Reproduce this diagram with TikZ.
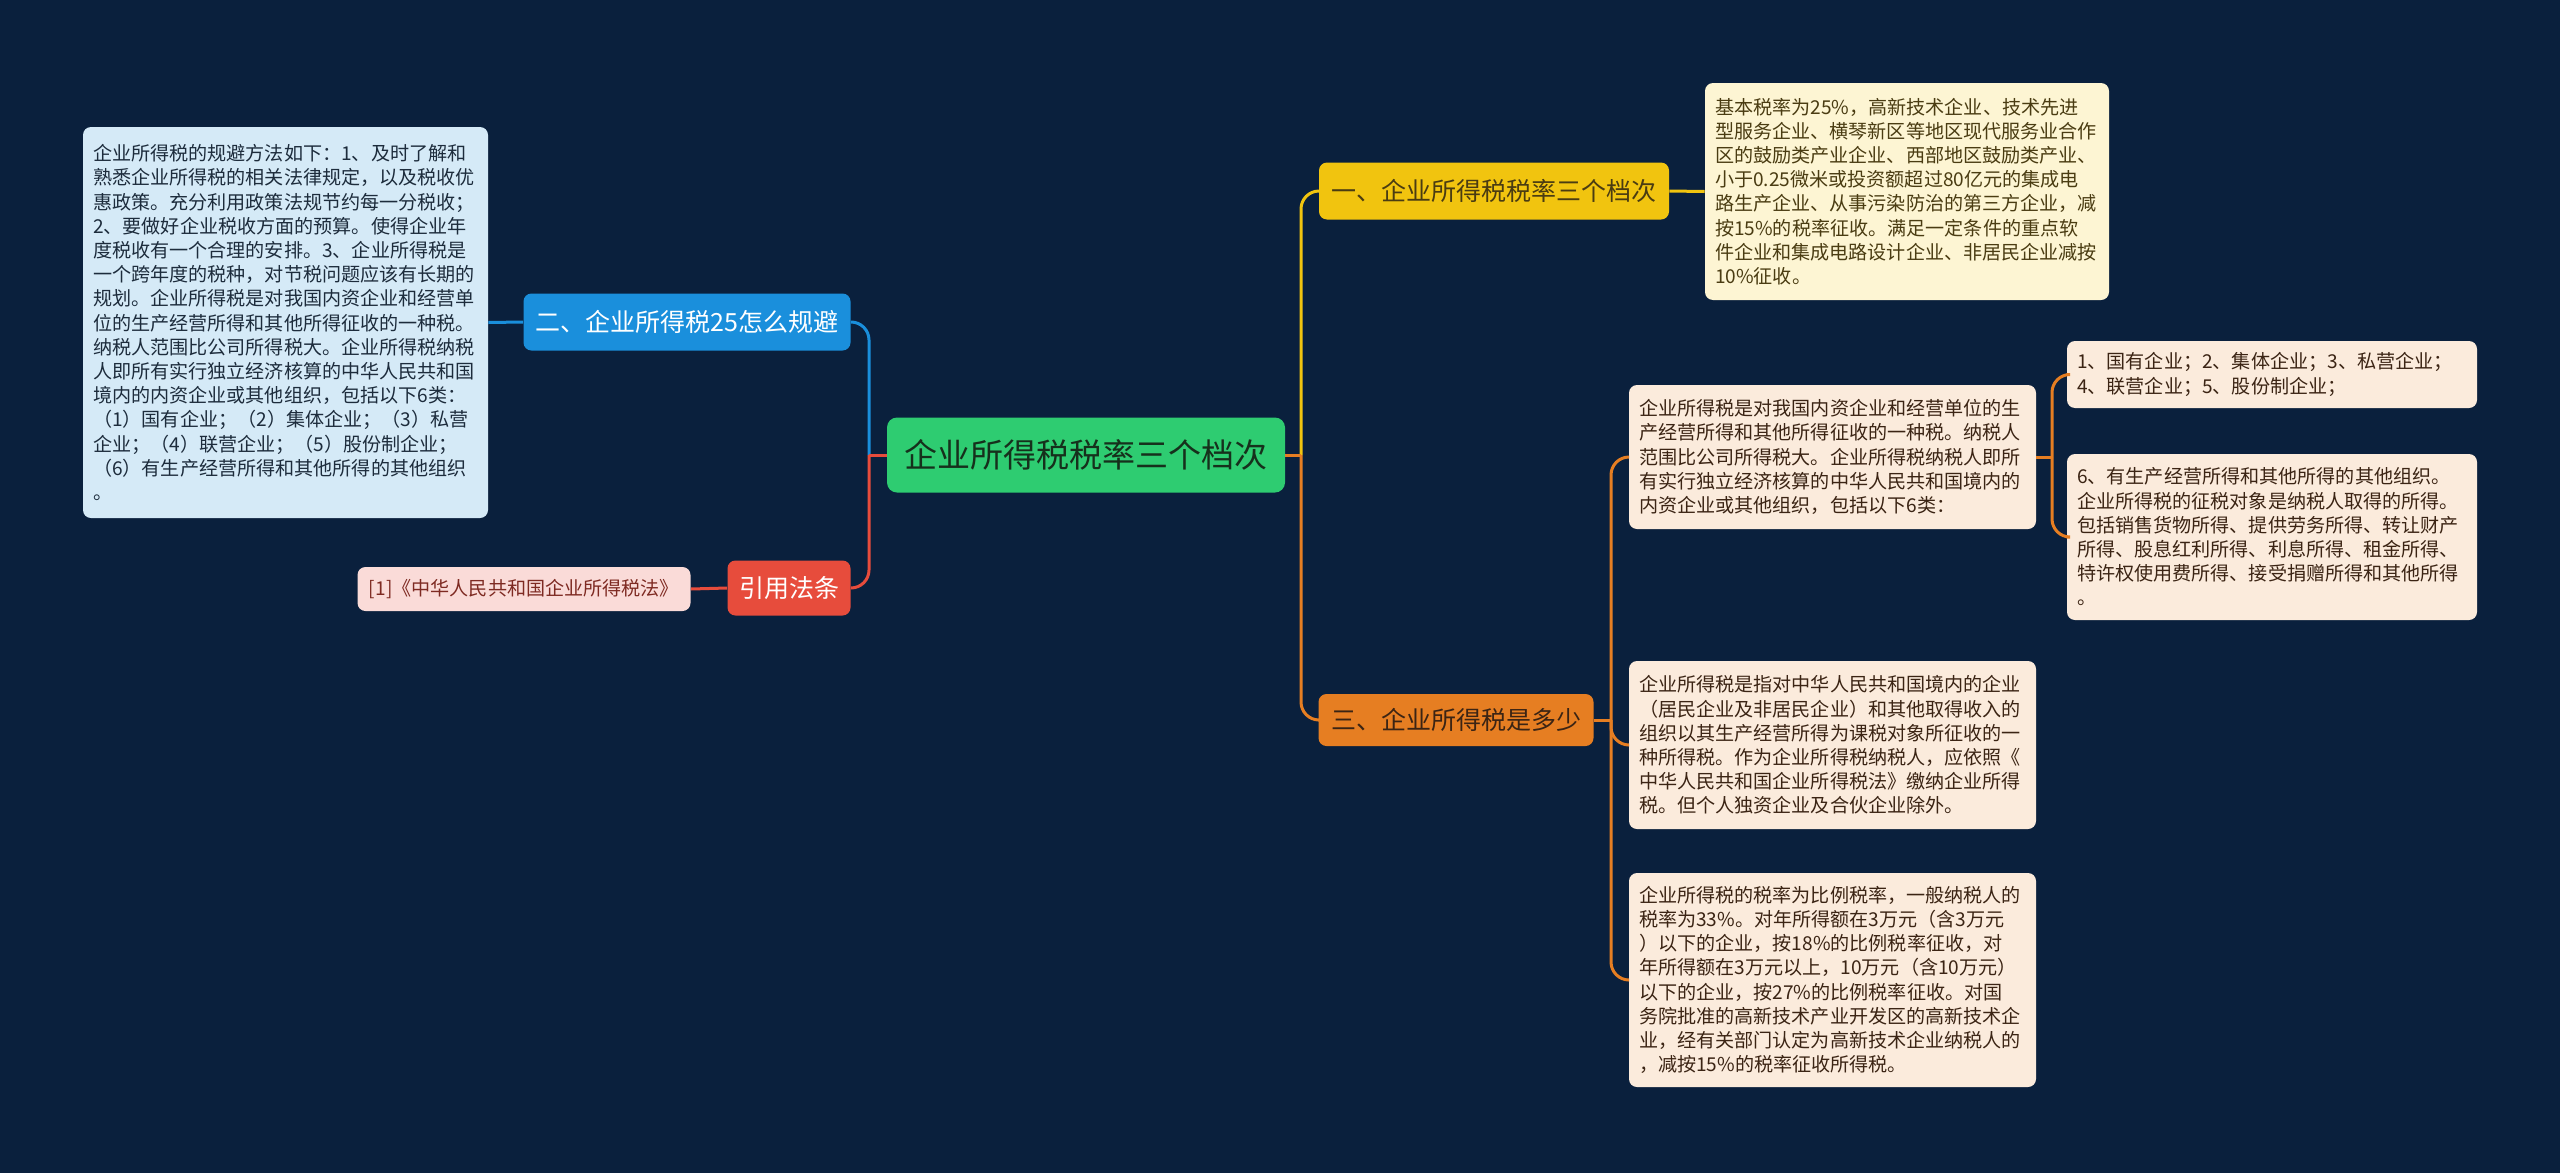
\documentclass[tikz,border=0pt]{standalone}
\usepackage{fontspec}
\setmainfont{Noto Sans CJK SC}
\definecolor{bgc}{HTML}{0A203D}
\definecolor{rootc}{HTML}{2ECC71}
\definecolor{roott}{HTML}{16301C}
\definecolor{yel}{HTML}{F1C40F}
\definecolor{ora}{HTML}{E67E22}
\definecolor{blu}{HTML}{1A8FDC}
\definecolor{redc}{HTML}{E74C3C}
\definecolor{leafy}{HTML}{FDF5D3}
\definecolor{leafo}{HTML}{FBEBDC}
\definecolor{leafb}{HTML}{D5EAF7}
\definecolor{leafr}{HTML}{FADBD8}
\definecolor{txy}{HTML}{4A3C12}
\definecolor{txo}{HTML}{3B2414}
\definecolor{txb}{HTML}{1D2C3C}
\definecolor{txr}{HTML}{7E2A22}
\newcommand{\leaffont}{\fontsize{9.55pt}{12.1pt}\selectfont}
\newcommand{\brfont}{\fontsize{12.5pt}{15pt}\selectfont}
\newcommand{\rootfont}{\fontsize{16.5pt}{20pt}\selectfont}
\tikzset{
  box/.style={rectangle, rounded corners=4pt, inner xsep=5pt, inner ysep=0pt, anchor=center},
  leafbox/.style={box, align=left, font=\leaffont},
  brbox/.style={box, font=\brfont, align=center},
  conn/.style={line width=1.5pt},
  rc/.style={conn, rounded corners=9pt}
}
\begin{document}
\begin{tikzpicture}[x=0.5pt,y=-0.5pt]
\fill[bgc] (0,0) rectangle (2560,1173);
\useasboundingbox (0,0) rectangle (2560,1173);

% root
\node[box, fill=rootc, text=roott, font=\rootfont, minimum width=199pt, minimum height=37.5pt, rounded corners=5pt] (root) at (1086,455) {企业所得税税率三个档次};

% right branches
\node[brbox, fill=yel, text=txy, minimum width=175pt, minimum height=28.5pt] (b1) at (1494,191) {一、企业所得税税率三个档次};
\node[brbox, fill=ora, text=txo, minimum width=137.5pt, minimum height=26pt] (b3) at (1456,720) {三、企业所得税是多少};

% left branches
\node[brbox, fill=blu, text=white, minimum width=163.5pt, minimum height=28.5pt] (b2) at (687,322) {二、企业所得税25怎么规避};
\node[brbox, fill=redc, text=white, minimum width=61.5pt, minimum height=27.5pt] (cite) at (789,588) {引用法条};

% leaves
\node[leafbox, fill=leafy, text=txy, text width=192pt, minimum height=108.5pt] (l1) at (1907,191.5) {基本税率为25\%，高新技术企业、技术先进\\型服务企业、横琴新区等地区现代服务业合作\\区的鼓励类产业企业、西部地区鼓励类产业、\\小于0.25微米或投资额超过80亿元的集成电\\路生产企业、从事污染防治的第三方企业，减\\按15\%的税率征收。满足一定条件的重点软\\件企业和集成电路设计企业、非居民企业减按\\10\%征收。};

\node[leafbox, fill=leafo, text=txo, text width=193.5pt, minimum height=72pt] (l3a) at (1832.5,457) {企业所得税是对我国内资企业和经营单位的生\\产经营所得和其他所得征收的一种税。纳税人\\范围比公司所得税大。企业所得税纳税人即所\\有实行独立经济核算的中华人民共和国境内的\\内资企业或其他组织，包括以下6类：};

\node[leafbox, fill=leafo, text=txo, text width=195pt, minimum height=33.5pt] (l3a1) at (2272,374.5) {1、国有企业；2、集体企业；3、私营企业；\\4、联营企业；5、股份制企业；};

\node[leafbox, fill=leafo, text=txo, text width=195pt, minimum height=83pt] (l3a2) at (2272,537) {6、有生产经营所得和其他所得的其他组织。\\企业所得税的征税对象是纳税人取得的所得。\\包括销售货物所得、提供劳务所得、转让财产\\所得、股息红利所得、利息所得、租金所得、\\特许权使用费所得、接受捐赠所得和其他所得\\。};

\node[leafbox, fill=leafo, text=txo, text width=193.5pt, minimum height=84pt] (l3b) at (1832.5,745) {企业所得税是指对中华人民共和国境内的企业\\（居民企业及非居民企业）和其他取得收入的\\组织以其生产经营所得为课税对象所征收的一\\种所得税。作为企业所得税纳税人，应依照《\\中华人民共和国企业所得税法》缴纳企业所得\\税。但个人独资企业及合伙企业除外。};

\node[leafbox, fill=leafo, text=txo, text width=193.5pt, minimum height=107pt] (l3c) at (1832.5,980) {企业所得税的税率为比例税率，一般纳税人的\\税率为33\%。对年所得额在3万元（含3万元\\）以下的企业，按18\%的比例税率征收，对\\年所得额在3万元以上，10万元（含10万元）\\以下的企业，按27\%的比例税率征收。对国\\务院批准的高新技术产业开发区的高新技术企\\业，经有关部门认定为高新技术企业纳税人的\\，减按15\%的税率征收所得税。};

\node[leafbox, fill=leafb, text=txb, text width=192.5pt, minimum height=195.5pt] (lb) at (285.5,322.5) {企业所得税的规避方法如下：1、及时了解和\\熟悉企业所得税的相关法律规定，以及税收优\\惠政策。充分利用政策法规节约每一分税收；\\2、要做好企业税收方面的预算。使得企业年\\度税收有一个合理的安排。3、企业所得税是\\一个跨年度的税种，对节税问题应该有长期的\\规划。企业所得税是对我国内资企业和经营单\\位的生产经营所得和其他所得征收的一种税。\\纳税人范围比公司所得税大。企业所得税纳税\\人即所有实行独立经济核算的中华人民共和国\\境内的内资企业或其他组织，包括以下6类：\\（1）国有企业；（2）集体企业；（3）私营\\企业；（4）联营企业；（5）股份制企业；\\（6）有生产经营所得和其他所得的其他组织\\。};

\node[box, fill=leafr, text=txr, font=\leaffont, minimum width=166.5pt, minimum height=22pt] (cit) at (524,589) {[1]《中华人民共和国企业所得税法》};

% junction coordinates
\coordinate (jr) at (1301,455);
\coordinate (jl) at (869,455);
\coordinate (j3) at (1611,720);
\coordinate (j3a) at (2052,457);

% connectors right
\draw[rc, yel] (jr) |- (b1.west);
\draw[rc, ora] (jr) |- (b3.west);
\draw[conn, ora] (root.east) -- (jr);
\draw[conn, yel] (b1.east) -- (l1.west);
\draw[conn, ora] (b3.east) -- (j3);
\draw[rc, ora] (j3) |- (l3a.west);
\draw[rc, ora] (j3) |- (l3b.west);
\draw[rc, ora] (j3) |- (l3c.west);
\draw[conn, ora] (l3a.east) -- (j3a);
\draw[rc, ora] (j3a) |- (l3a1.west);
\draw[rc, ora] (j3a) |- (l3a2.west);

% connectors left
\draw[rc, blu] (jl) |- (b2.east);
\draw[rc, redc] (jl) |- (cite.east);
\draw[conn, redc] (root.west) -- (jl);
\draw[conn, blu] (b2.west) -- (lb.east);
\draw[conn, redc] (cite.west) -- (cit.east);
\end{tikzpicture}
\end{document}
